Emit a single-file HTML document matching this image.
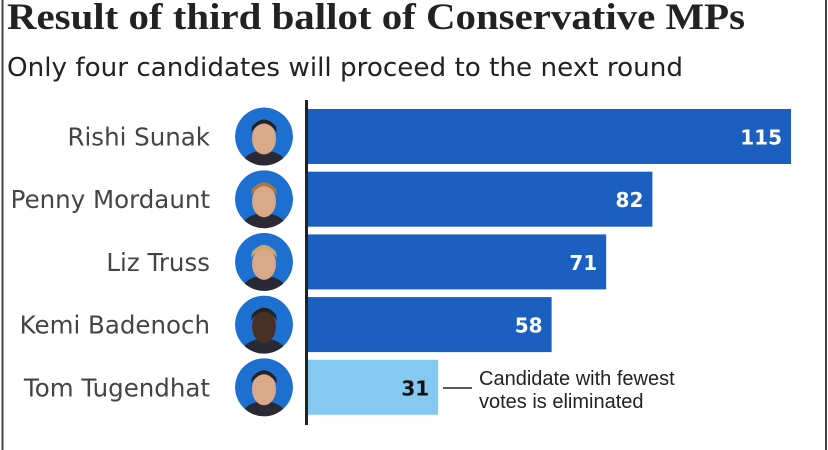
<!DOCTYPE html>
<html><head><meta charset="utf-8"><style>
html,body{margin:0;padding:0;background:#fff;width:828px;height:450px;overflow:hidden}
svg{display:block}
</style></head><body>
<svg id="chart" width="828" height="450" viewBox="0 0 828 450" xmlns="http://www.w3.org/2000/svg">
<defs><clipPath id="cc"><circle cx="264" cy="0" r="29"/></clipPath></defs>
<line x1="2.5" y1="0" x2="2.5" y2="450" stroke="#444" stroke-width="2"/>
<line x1="826" y1="0" x2="826" y2="450" stroke="#444" stroke-width="2"/>
<text x="7" y="29" font-family="Liberation Serif, serif" font-weight="bold" font-size="37" textLength="738" lengthAdjust="spacingAndGlyphs" fill="#222">Result of third ballot of Conservative MPs</text>
<text x="7" y="76" font-family="DejaVu Sans, sans-serif" font-size="26" textLength="676" lengthAdjust="spacingAndGlyphs" fill="#222">Only four candidates will proceed to the next round</text>
<g id="bars"></g>
<line x1="306.5" y1="100" x2="306.5" y2="425" stroke="#222" stroke-width="3"/>
<line x1="443" y1="388" x2="472" y2="388" stroke="#222" stroke-width="1.5"/>
<text font-family="Liberation Sans, sans-serif" font-size="20" fill="#222"><tspan x="479" y="385">Candidate with fewest</tspan><tspan x="479" y="408">votes is eliminated</tspan></text>
</svg>
<script>
const categories = ["Rishi Sunak","Penny Mordaunt","Liz Truss","Kemi Badenoch","Tom Tugendhat"];
const votes = [115,82,71,58,31];
const eliminated = [false,false,false,false,true];
const ns="http://www.w3.org/2000/svg";
const g=document.getElementById('bars');
const x0=308, pxPer=4.2;
function xScale(v){return x0+v*pxPer;}
function yScale(i){return 109+i*62.7;}
const bh=55;
function mk(t,a){const e=document.createElementNS(ns,t);for(const k in a)e.setAttribute(k,a[k]);return e;}
categories.forEach((c,i)=>{
  const y=yScale(i), cy=y+bh/2;
  const slug=c.toLowerCase().replace(/ /g,'-');
  const r=mk('rect',{x:x0,y:y,width:xScale(votes[i])-x0,height:bh,fill:eliminated[i]?'#83c9f0':'#1b5fc1'});
  
  
  g.appendChild(r);
  const v=mk('text',{x:xScale(votes[i])-9,y:cy+8,'text-anchor':'end','font-family':'DejaVu Sans, sans-serif','font-weight':'bold','font-size':'20',fill:eliminated[i]?'#111':'#fff'});
  v.textContent=votes[i];
  
  
  g.appendChild(v);
  const l=mk('text',{x:210,y:cy+9,'text-anchor':'end','font-family':'DejaVu Sans, sans-serif','font-size':'24.5',fill:'#444'});
  l.textContent=c;
  
  
  g.appendChild(l);
  const p=mk('g',{transform:`translate(0 ${cy})`});
  
  
  const inner=mk('g',{'clip-path':'url(#cc)'});
  inner.appendChild(mk('circle',{cx:264,cy:0,r:29,fill:'#1d6fd0'}));
  inner.appendChild(mk('ellipse',{cx:264,cy:28,rx:22,ry:14,fill:'#2a2a35'}));
  inner.appendChild(mk('ellipse',{cx:264,cy:2,rx:12,ry:16,fill:i==3?'#4a3024':'#d9a98a'}));
  inner.appendChild(mk('path',{d:`M251 -4 Q264 -22 277 -4 L276 -10 Q264 -24 252 -10Z`,fill:i==1?'#b07a3c':(i==2?'#c9a96a':'#222')}));
  p.appendChild(inner);
  g.appendChild(p);
});
</script>
</body></html>
